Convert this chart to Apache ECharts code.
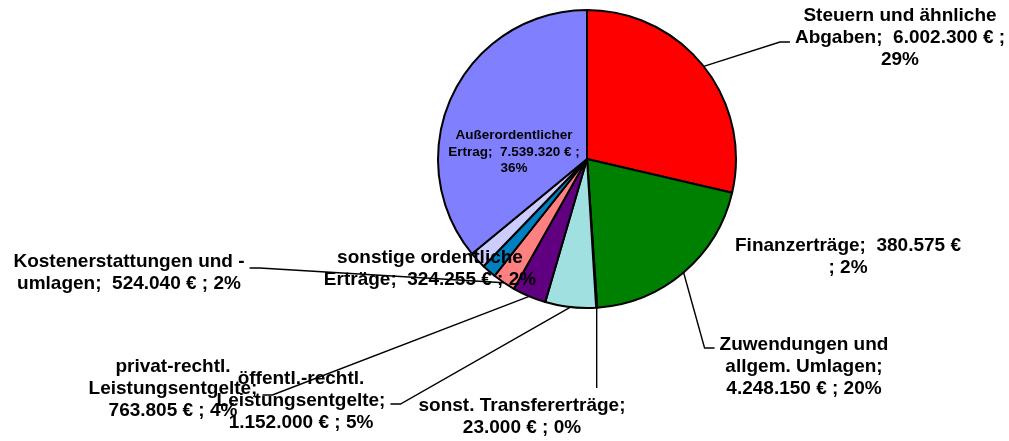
<!DOCTYPE html>
<html><head><meta charset="utf-8">
<script src="https://cdn.jsdelivr.net/npm/echarts@6/dist/echarts.min.js"></script>
<style>html,body{margin:0;padding:0;background:#fff}#c{width:1009px;height:441px}</style>
</head><body><div id="c"></div>
<script>
// ---- data ----
const categories = ['Steuern und ähnliche Abgaben', 'Zuwendungen und allgem. Umlagen', 'sonst. Transfererträge',
  'öffentl.-rechtl. Leistungsentgelte', 'privat-rechtl. Leistungsentgelte', 'Kostenerstattungen und -umlagen',
  'sonstige ordentliche Erträge', 'Finanzerträge', 'Außerordentlicher Ertrag'];
const values = [6002300, 4248150, 23000, 1152000, 763805, 524040, 324255, 380575, 7539320];
const percentLabels = [29, 20, 0, 5, 4, 2, 2, 2, 36];

// ---- styling / layout (not data) ----
const colors = ['#FF0000', '#008000', '#FFFFCC', '#A0E0E0', '#600080', '#FF8080', '#0080C0', '#CCCCFF', '#8080FF'];
const lineBreaks = [['ähnliche', '€ ;'], ['und', 'Umlagen;'], ['Transfererträge;'], ['rechtl.', 'Leistungsentgelte;'],
  ['rechtl.', 'Leistungsentgelte;'], ['und -'], ['ordentliche'], ['€'], ['Außerordentlicher', '€ ;']];
const labelPlacement = [
  { x: 900, y: 38, line: { side: 'left', dy: 4 } },
  { x: 804, y: 367, line: { side: 'left', dy: -19 } },
  { x: 522, y: 417, line: { side: 'top' } },
  { x: 301, y: 401, line: { side: 'right', dy: 3 } },
  { x: 173, y: 389, line: { side: 'right', dy: 6 } },
  { x: 129, y: 273, line: { side: 'right', dy: -5 } },
  { x: 430, y: 269, line: null },
  { x: 848, y: 257, line: null },
  { x: 514, y: 152, line: null }
];
const innerLabel = 8;

function fmtNum(v) {
  return String(v).replace(/\B(?=(\d{3})+(?!\d))/g, '.');
}
function wrap(text, breaks) {
  let out = '', rest = text;
  for (const b of breaks) {
    const i = rest.indexOf(b);
    if (i < 0) continue;
    out += rest.slice(0, i + b.length).replace(/\s+$/, '') + '\n';
    rest = rest.slice(i + b.length).replace(/^\s+/, '');
  }
  return out + rest;
}

const chart = echarts.init(document.getElementById('c'), null, { renderer: 'canvas' });

const data = categories.map((name, i) => {
  const item = { name: name, value: values[i], itemStyle: { color: colors[i] } };
  if (!labelPlacement[i].line) item.labelLine = { show: false };
  if (i === innerLabel) item.label = { fontSize: 13.5, lineHeight: 16.5 };
  return item;
});

function sliceEdge(i) {
  const lay = chart.getModel().getSeriesByIndex(0).getData().getItemLayout(i);
  const mid = (lay.startAngle + lay.endAngle) / 2;
  return [lay.cx + lay.r * Math.cos(mid), lay.cy + lay.r * Math.sin(mid)];
}

chart.setOption({
  animation: false,
  backgroundColor: '#fff',
  series: [{
    type: 'pie',
    center: [587, 159],
    radius: 149,
    startAngle: 90,
    clockwise: true,
    avoidLabelOverlap: false,
    emphasis: { disabled: true },
    itemStyle: { borderColor: '#000', borderWidth: 2 },
    label: {
      show: true,
      position: 'outside',
      color: '#000',
      fontFamily: '"Liberation Sans", Arial, sans-serif',
      fontWeight: 'bold',
      fontSize: 19,
      lineHeight: 22,
      align: 'center',
      overflow: 'none',
      formatter: p => wrap(p.name + ';  ' + fmtNum(p.value) + ' € ; ' + percentLabels[p.dataIndex] + '%', lineBreaks[p.dataIndex])
    },
    labelLine: { show: true, smooth: false, length: 10, length2: 10, lineStyle: { color: '#000', width: 1.4 } },
    labelLayout: function (p) {
      const P = labelPlacement[p.dataIndex];
      const w = p.labelRect.width, h = p.labelRect.height;
      const res = { x: P.x, y: P.y, align: 'center', verticalAlign: 'middle' };
      if (P.line) {
        const s = sliceEdge(p.dataIndex);
        let bend, end;
        if (P.line.side === 'left') {
          const ey = P.y + P.line.dy; end = [P.x - w / 2 - 5, ey]; bend = [end[0] - 10, ey];
        } else if (P.line.side === 'right') {
          const ey = P.y + P.line.dy; end = [P.x + w / 2 + 5, ey]; bend = [end[0] + 10, ey];
        } else {
          const ey = P.y - h / 2 - 7; end = [s[0], ey]; bend = [s[0], ey];
        }
        res.labelLinePoints = [s, bend, end];
      }
      return res;
    },
    data: data
  }]
});
</script>
</body></html>
